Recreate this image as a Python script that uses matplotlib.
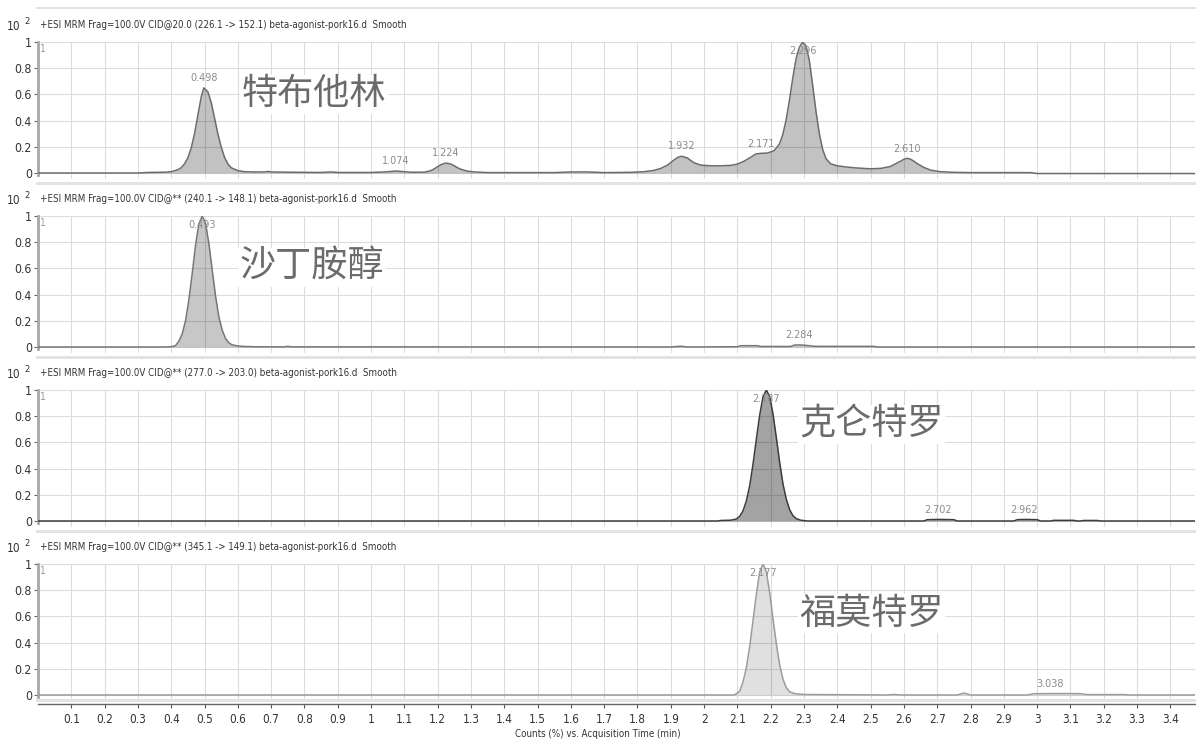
import numpy as np
import matplotlib
matplotlib.use("Agg")
import matplotlib.pyplot as plt
from matplotlib import font_manager as fm
from matplotlib.patches import Rectangle

# ---------------------------------------------------------------- fonts
_entries = fm.fontManager.ttflist
_names = {f.name for f in _entries}
STRETCH = "normal"
if "Liberation Sans Narrow" in _names:
    NARROW = "Liberation Sans Narrow"
elif any(f.name == "DejaVu Sans" and f.stretch == "condensed" for f in _entries):
    NARROW, STRETCH = "DejaVu Sans", "condensed"
else:
    NARROW = "Liberation Sans"
plt.rcParams["font.family"] = [NARROW, "DejaVu Sans"]
plt.rcParams["font.stretch"] = STRETCH
CJK = ["Noto Sans CJK SC", "DejaVu Sans"]

# ---------------------------------------------------------------- data
HEADERS = [
    "+ESI MRM Frag=100.0V CID@20.0 (226.1 -> 152.1) beta-agonist-pork16.d  Smooth",
    "+ESI MRM Frag=100.0V CID@** (240.1 -> 148.1) beta-agonist-pork16.d  Smooth",
    "+ESI MRM Frag=100.0V CID@** (277.0 -> 203.0) beta-agonist-pork16.d  Smooth",
    "+ESI MRM Frag=100.0V CID@** (345.1 -> 149.1) beta-agonist-pork16.d  Smooth",
]
COMPOUNDS = ["特布他林", "沙丁胺醇", "克仑特罗", "福莫特罗"]

# terbutaline trace (time in min, counts x10^2)
t_terb = [0.00, 0.30, 0.33, 0.38, 0.40, 0.42, 0.43, 0.44, 0.45, 0.46,
          0.47, 0.48, 0.49, 0.498, 0.51, 0.52, 0.53, 0.54, 0.55, 0.56,
          0.57, 0.58, 0.60, 0.62, 0.65, 0.68, 0.69, 0.70, 0.75, 0.85,
          0.88, 0.90, 1.00, 1.04, 1.06, 1.074, 1.09, 1.12, 1.16, 1.18,
          1.19, 1.20, 1.21, 1.224, 1.24, 1.25, 1.26, 1.27, 1.29, 1.31,
          1.35, 1.55, 1.60, 1.65, 1.70, 1.78, 1.82, 1.85, 1.87, 1.89,
          1.90, 1.91, 1.92, 1.932, 1.95, 1.96, 1.97, 1.99, 2.02, 2.05,
          2.08, 2.10, 2.12, 2.14, 2.155, 2.171, 2.19, 2.21, 2.226, 2.236,
          2.246, 2.256, 2.266, 2.276, 2.286, 2.296, 2.306, 2.316, 2.326, 2.336,
          2.346, 2.356, 2.366, 2.38, 2.40, 2.43, 2.46, 2.50, 2.53, 2.56,
          2.575, 2.59, 2.60, 2.61, 2.62, 2.63, 2.64, 2.66, 2.68, 2.71,
          2.75, 2.80, 2.98, 3.00, 3.474]
y_terb = [0.000, 0.000, 0.004, 0.006, 0.010, 0.025, 0.040, 0.070, 0.115, 0.190,
          0.300, 0.440, 0.580, 0.650, 0.620, 0.540, 0.420, 0.300, 0.200, 0.120,
          0.070, 0.040, 0.018, 0.010, 0.008, 0.008, 0.012, 0.008, 0.006, 0.004,
          0.008, 0.004, 0.004, 0.008, 0.012, 0.015, 0.012, 0.006, 0.006, 0.018,
          0.032, 0.048, 0.064, 0.076, 0.068, 0.055, 0.040, 0.028, 0.014, 0.008,
          0.003, 0.003, 0.008, 0.008, 0.003, 0.005, 0.010, 0.020, 0.035, 0.060,
          0.080, 0.100, 0.118, 0.128, 0.115, 0.095, 0.078, 0.060, 0.055, 0.055,
          0.058, 0.068, 0.090, 0.120, 0.145, 0.150, 0.152, 0.170, 0.220, 0.290,
          0.400, 0.550, 0.720, 0.870, 0.960, 1.000, 0.970, 0.860, 0.670, 0.470,
          0.300, 0.180, 0.110, 0.070, 0.055, 0.045, 0.038, 0.032, 0.035, 0.050,
          0.070, 0.090, 0.105, 0.112, 0.105, 0.090, 0.072, 0.042, 0.022, 0.010,
          0.005, 0.003, 0.003, -0.004, -0.004]
rt_terb = [0.498, 1.074, 1.224, 1.932, 2.171, 2.296, 2.610]

# salbutamol trace
t_salb = [0.00, 0.38, 0.40, 0.413, 0.423, 0.433, 0.443, 0.453, 0.463, 0.473,
          0.483, 0.493, 0.503, 0.513, 0.523, 0.533, 0.543, 0.553, 0.563, 0.573,
          0.583, 0.60, 0.62, 0.65, 0.70, 0.74, 0.75, 0.76, 1.90, 1.93,
          1.95, 2.10, 2.11, 2.16, 2.17, 2.26, 2.27, 2.284, 2.30, 2.33,
          2.34, 2.51, 2.52, 3.474]
y_salb = [0.000, 0.000, 0.002, 0.010, 0.045, 0.100, 0.200, 0.360, 0.560, 0.775,
          0.940, 1.000, 0.945, 0.790, 0.590, 0.390, 0.230, 0.130, 0.065, 0.032,
          0.016, 0.008, 0.004, 0.002, 0.001, 0.001, 0.005, 0.001, 0.000, 0.006,
          0.000, 0.002, 0.010, 0.010, 0.004, 0.004, 0.014, 0.016, 0.014, 0.006,
          0.005, 0.005, 0.000, 0.000]
rt_salb = [0.493, 2.284]

# clenbuterol trace
t_clen = [0.00, 2.04, 2.05, 2.08, 2.097, 2.107, 2.117, 2.127, 2.137, 2.147,
          2.157, 2.167, 2.177, 2.187, 2.197, 2.207, 2.217, 2.227, 2.237, 2.247,
          2.257, 2.267, 2.277, 2.29, 2.31, 2.66, 2.67, 2.702, 2.75, 2.76,
          2.93, 2.94, 2.962, 3.00, 3.01, 3.04, 3.05, 3.11, 3.12, 3.13,
          3.14, 3.18, 3.19, 3.474]
y_clen = [0.000, 0.000, 0.004, 0.006, 0.015, 0.036, 0.078, 0.154, 0.270, 0.435,
          0.626, 0.810, 0.949, 1.000, 0.950, 0.815, 0.635, 0.445, 0.280, 0.165,
          0.085, 0.040, 0.018, 0.006, 0.000, 0.000, 0.010, 0.012, 0.010, 0.000,
          0.000, 0.010, 0.012, 0.010, 0.000, 0.000, 0.005, 0.005, 0.000, 0.000,
          0.004, 0.004, 0.000, 0.000]
rt_clen = [2.187, 2.702, 2.962]

# formoterol trace
t_form = [0.00, 2.09, 2.097, 2.107, 2.117, 2.127, 2.137, 2.147, 2.157, 2.167,
          2.177, 2.187, 2.197, 2.207, 2.217, 2.227, 2.237, 2.247, 2.257, 2.27,
          2.28, 2.30, 2.55, 2.57, 2.59, 2.76, 2.78, 2.80, 2.97, 2.99,
          3.038, 3.10, 3.13, 3.15, 3.26, 3.28, 3.474]
y_form = [0.000, 0.000, 0.010, 0.030, 0.100, 0.210, 0.370, 0.570, 0.770, 0.940,
          1.000, 0.940, 0.780, 0.580, 0.390, 0.230, 0.120, 0.055, 0.025, 0.012,
          0.008, 0.004, 0.000, 0.004, 0.000, 0.000, 0.015, 0.000, 0.000, 0.010,
          0.011, 0.011, 0.010, 0.003, 0.003, 0.000, 0.000]
rt_form = [2.177, 3.038]

X_TICKS = [round(0.1 * i, 1) for i in range(1, 35)]
Y_TICKS = [0, 0.2, 0.4, 0.6, 0.8, 1]
Y_LABELS = ["0", "0.2", "0.4", "0.6", "0.8", "1"]

traces = [(t_terb, y_terb, rt_terb), (t_salb, y_salb, rt_salb),
          (t_clen, y_clen, rt_clen), (t_form, y_form, rt_form)]
# fill opacity / outline colour per trace
fill_alpha = [0.24, 0.22, 0.36, 0.12]
line_color = ["#6c6c6c", "#767676", "#3c3c3c", "#9c9c9c"]
# position of the compound name (left time, height)
name_pos = [(0.612, 0.60), (0.606, 0.61), (2.285, 0.74), (2.285, 0.62)]

# ---------------------------------------------------------------- figure
W, H = 1196, 742
fig = plt.figure(figsize=(W / 100, H / 100), dpi=100)


def fx(px):
    return px / W


def fy(py):
    return 1 - py / H


# size the small annotation font so the header line spans ~368 px
_probe = fig.text(0, 0, HEADERS[0], fontsize=10)
_w = _probe.get_window_extent(renderer=fig.canvas.get_renderer()).width
_probe.remove()
SMALL = 10 * 368 / _w

STEP = 174
for k, ((t, y, rts), header, name) in enumerate(zip(traces, HEADERS, COMPOUNDS)):
    top = 42 + STEP * k
    bot = 179 + STEP * k
    ax = fig.add_axes([fx(38), fy(bot), fx(1195) - fx(38), (bot - top) / H])
    ax.set_xlim(0, 3.474)
    ax.set_ylim(-6 / 131, 1.0)
    ax.set_xticks(X_TICKS)
    ax.set_yticks(Y_TICKS)
    ax.set_yticklabels(Y_LABELS)
    ax.grid(True, color="#dcdcdc", lw=0.8)
    ax.set_axisbelow(True)
    for s in ("top", "right", "bottom"):
        ax.spines[s].set_visible(False)
    ax.spines["left"].set_color("#a8a8a8")
    ax.spines["left"].set_linewidth(2.0)
    ax.spines["left"].set_bounds(-0.015, 1.0)
    ax.tick_params(axis="y", direction="out", length=3, width=0.8, color="#666666",
                   labelsize=SMALL * 1.25, labelcolor="#333333", pad=1.5)
    if k < 3:
        ax.tick_params(axis="x", length=0, labelbottom=False)
    else:
        ax.spines["bottom"].set_visible(True)
        ax.spines["bottom"].set_position(("outward", 2.5))
        ax.spines["bottom"].set_color("#666666")
        ax.spines["bottom"].set_linewidth(1.0)
        ax.set_xticklabels([f"{v:g}" for v in X_TICKS])
        ax.tick_params(axis="x", direction="out", length=3, width=0.8, color="#555555",
                       labelsize=SMALL * 1.2, labelcolor="#333333", pad=3)

    # chromatogram
    ax.fill_between(t, 0, y, color="black", alpha=fill_alpha[k], lw=0, zorder=2)
    ax.plot(t, y, color=line_color[k], lw=1.1, zorder=3)

    # retention-time labels
    for rt in rts:
        h = float(np.interp(rt, t, y))
        ax.text(rt, min(h + 0.075, 0.935), f"{rt:.3f}", ha="center", va="center",
                fontsize=SMALL * 1.1, color="#8c8c8c", zorder=4)

    # trace index marker
    ax.text(0.006, 0.985, "1", ha="left", va="top", fontsize=SMALL * 1.05,
            color="#9a9a9a", zorder=4)

    # compound name
    nx, ny = name_pos[k]
    ax.text(nx, ny, name, family=CJK, fontsize=26, color="#6b6b6b", ha="left",
            va="center", zorder=5,
            bbox=dict(facecolor="white", edgecolor="none", pad=1.0))

    # header line
    hy = 25 + STEP * k
    fig.text(fx(7), fy(hy + 1), "10", fontsize=SMALL * 1.2, color="#333333", va="center")
    fig.text(fx(24), fy(hy - 3), "2", fontsize=SMALL * 0.95, color="#333333", va="center")
    fig.text(fx(40), fy(hy), header, fontsize=SMALL, color="#333333", va="center")

# panel separators
for ys, hpx in [(7, 2), (182, 3), (356, 3), (530, 3), (699, 3)]:
    fig.add_artist(Rectangle((fx(36), fy(ys + hpx)), 1 - fx(36), hpx / H,
                             transform=fig.transFigure, color="#e3e3e3", lw=0))

fig.text(fx(598), fy(734), "Counts (%) vs. Acquisition Time (min)", ha="center",
         va="center", fontsize=SMALL * 1.0, color="#333333")

fig.savefig("out.png", dpi=100, facecolor="white")
